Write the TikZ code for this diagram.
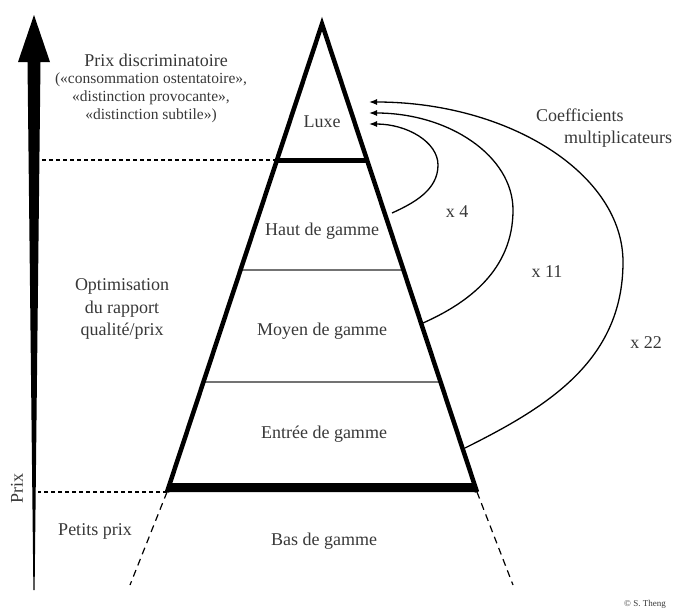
\documentclass[tikz,border=0pt]{standalone}
\usepackage{fontspec}
\setmainfont{Liberation Serif}
\usetikzlibrary{arrows.meta, calc, positioning}

\begin{document}
\begin{tikzpicture}[
    x=1pt, y=-1pt,
    lbl/.style={font=\fontsize{18}{21}\selectfont, text=black!78, inner sep=0pt, text height=12pt, text depth=4pt},
    txt/.style={font=\fontsize{18}{22.5}\selectfont, text=black!78, inner sep=0pt, align=center},
    subtxt/.style={font=\fontsize{15.5}{18}\selectfont, text=black!78, inner sep=0pt, align=center},
    side/.style={line width=4.5pt, line join=miter},
    divider/.style={line width=1.3pt, draw=black!55},
    guide/.style={line width=1.2pt, dash pattern=on 4pt off 3pt},
    ext/.style={line width=1.2pt, dash pattern=on 7pt off 5pt},
    coef/.style={-{Latex[length=8pt,width=6pt]}, line width=1.3pt}
]
\useasboundingbox (0,0) rectangle (677,611);

% Price axis (tapered arrow)
\fill (34,15) -- (50,62) -- (40.5,62) -- (34.6,590) -- (33.4,590) -- (27.5,62) -- (18,62) -- cycle;
\node[lbl, rotate=90] (prix) at (19,488) {Prix};
\coordinate (axis) at (38,0);

% Pyramid
\coordinate (apex) at (322,24);
\coordinate (bl) at (167,492);
\coordinate (br) at (477,492);
\coordinate (lux-l) at ($(apex)!0.2906!(bl)$);
\coordinate (lux-r) at ($(apex)!0.2906!(br)$);
\coordinate (hdg-l) at ($(apex)!0.5256!(bl)$);
\coordinate (hdg-r) at ($(apex)!0.5256!(br)$);
\coordinate (mdg-l) at ($(apex)!0.7650!(bl)$);
\coordinate (mdg-r) at ($(apex)!0.7650!(br)$);
\coordinate (base-l) at ($(apex)!0.9808!(bl)$);
\coordinate (base-r) at ($(apex)!0.9808!(br)$);

\fill (base-l) -- (base-r) -- (br) -- (bl) -- cycle;
\draw[line width=5pt] (lux-l) -- (lux-r);
\draw[divider] (hdg-l) -- (hdg-r);
\draw[divider] (mdg-l) -- (mdg-r);
\draw[side] (bl) -- (apex) -- (br);

% Guides
\draw[guide] (lux-l) -- (lux-l -| axis);
\draw[guide] (bl) -- (bl -| axis);
\coordinate (bl-end) at (130,585);
\coordinate (br-end) at (513,585);
\draw[ext] (bl) -- (bl-end);
\draw[ext] (br) -- (br-end);

% Segment labels
\node[lbl] (luxe) at (322,123) {Luxe};
\node[lbl] (haut) at (322,231) {Haut de gamme};
\node[lbl] (moyen) at (322,331) {Moyen de gamme};
\node[lbl] (entree) at (324,434) {Entrée de gamme};
\node[lbl] (bas) at (324,541) {Bas de gamme};

% Price strategies
\node[lbl] (discr) at (156,62) {Prix discriminatoire};
\node[subtxt] (discr-sub) at (151,98) {(«consommation ostentatoire»,\\«distinction provocante»,\\«distinction subtile»)};
\node[txt] (optim) at (122,309) {Optimisation\\du rapport\\qualité/prix};
\node[lbl] (petits) at (95,531) {Petits prix};

% Multipliers
\node[txt, align=left] (coefs) at (604,128) {Coefficients\\\hspace*{28pt}multiplicateurs};
\coordinate (s4) at (392,213);   \coordinate (m4) at (438,165);   \coordinate (t4) at (369,124);
\coordinate (s11) at (423,323);  \coordinate (m11) at (513,210);  \coordinate (t11) at (369,113);
\coordinate (s22) at (465,448);  \coordinate (m22) at (623,262);  \coordinate (t22) at (369,102);
\draw[coef] (s4) .. controls +(22,-10) and +(0,25) .. (m4) .. controls +(0,-23) and +(38,0) .. (t4);
\draw[coef] (s11) .. controls +(45,-20) and +(0,60) .. (m11) .. controls +(0,-54) and +(80,0) .. (t11);
\draw[coef] (s22) .. controls +(80,-40) and +(0,100) .. (m22) .. controls +(0,-88) and +(140,0) .. (t22);
\node[lbl] (k4) at (457,213) {x 4};
\node[lbl] (k11) at (547,273) {x 11};
\node[lbl] (k22) at (646,344) {x 22};

\node[font=\fontsize{9}{10}\selectfont, text=black!78, inner sep=0pt] (credit) at (645,604) {© S. Theng};

\end{tikzpicture}
\end{document}
